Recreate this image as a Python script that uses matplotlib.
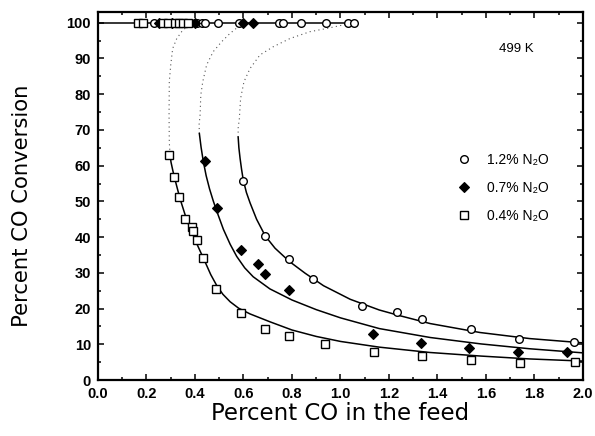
import matplotlib
matplotlib.use('Agg')
import matplotlib.pyplot as plt
from matplotlib.ticker import MultipleLocator, FormatStrFormatter
from matplotlib.lines import Line2D

plt.rcParams['font.family'] = ['Liberation Sans', 'DejaVu Sans']

# measured points, lower branch
co_12 = [0.600, 0.690, 0.789, 0.888, 1.088, 1.233, 1.338, 1.537, 1.738, 1.965]
conv_12 = [55.8, 40.2, 33.8, 28.3, 20.8, 18.9, 17.0, 14.2, 11.4, 10.6]
co_07 = [0.440, 0.490, 0.589, 0.660, 0.690, 0.789, 1.133, 1.334, 1.532, 1.734, 1.936]
conv_07 = [61.3, 48.2, 36.4, 32.4, 29.7, 25.1, 12.8, 10.4, 9.1, 7.9, 7.8]
co_04 = [0.294, 0.315, 0.334, 0.358, 0.389, 0.392, 0.407, 0.431, 0.487, 0.590,
         0.690, 0.787, 0.938, 1.139, 1.338, 1.538, 1.739, 1.968]
conv_04 = [63.0, 56.8, 51.3, 45.2, 42.8, 41.6, 39.3, 34.2, 25.5, 18.7,
           14.3, 12.4, 10.1, 7.9, 6.6, 5.6, 4.9, 5.0]

# measured points on the upper (100 %) branch
top_12 = [0.232, 0.385, 0.41, 0.427, 0.442, 0.494, 0.581, 0.748, 0.762, 0.836, 0.939, 1.033, 1.056]
top_07 = [0.25, 0.305, 0.40, 0.598, 0.641]
top_04 = [0.166, 0.186, 0.27, 0.29, 0.318, 0.336, 0.352, 0.37]
top_line_x = [0.0, 1.06]

# model curves (solid = stable lower branch, dotted = unstable branch)
fit_12_x = [0.578, 0.581, 0.586, 0.592, 0.599, 0.612, 0.627, 0.654, 0.69, 0.73, 0.789,
            0.854, 0.93, 1.04, 1.16, 1.245, 1.37, 1.575, 1.78, 2.0]
fit_12_y = [68.0, 65.0, 62.0, 59.0, 56.0, 52.5, 49.6, 45.0, 40.3, 36.9, 33.2,
            29.9, 26.4, 22.6, 19.6, 18.0, 15.8, 13.3, 11.6, 10.4]
dot_12_x = [0.578, 0.578, 0.583, 0.588, 0.602, 0.627, 0.668, 0.723, 0.792, 0.874, 0.943, 0.998, 1.05]
dot_12_y = [68.0, 70.5, 73.2, 78.8, 83.5, 87.2, 91.0, 93.3, 95.6, 97.5, 98.4, 99.2, 100]

fit_07_x = [0.418, 0.425, 0.434, 0.446, 0.46, 0.475, 0.489, 0.517, 0.545, 0.572, 0.605,
            0.64, 0.709, 0.80, 0.90, 1.0, 1.16, 1.37, 1.58, 1.78, 2.0]
fit_07_y = [69.0, 65.2, 61.3, 57.2, 53.5, 50.2, 47.4, 42.2, 38.0, 34.6, 31.4,
            28.9, 25.5, 22.4, 19.7, 17.4, 14.4, 11.9, 10.1, 8.75, 7.6]
dot_07_x = [0.418, 0.417, 0.421, 0.424, 0.432, 0.448, 0.475, 0.510, 0.544, 0.579, 0.606, 0.64]
dot_07_y = [69.0, 71.5, 74.2, 79.8, 83.5, 88.2, 91.9, 94.7, 97.0, 98.9, 99.6, 100]

fit_04_x = [0.297, 0.301, 0.309, 0.318, 0.338, 0.366, 0.407, 0.442, 0.465, 0.49, 0.515,
            0.545, 0.58, 0.627, 0.709, 0.80, 0.90, 1.0, 1.16, 1.37, 1.58, 1.78, 2.0]
fit_04_y = [63.2, 61.0, 58.5, 56.0, 50.8, 44.8, 38.2, 33.0, 29.5, 26.4, 24.0,
            21.9, 20.1, 18.5, 16.3, 14.0, 12.2, 10.8, 9.2, 7.7, 6.7, 5.9, 5.3]
dot_04_x = [0.297, 0.294, 0.293, 0.294, 0.300, 0.308, 0.325, 0.345, 0.366, 0.392, 0.42]
dot_04_y = [63.2, 66.7, 74.2, 83.5, 88.2, 92.8, 95.6, 97.5, 98.9, 99.6, 100]

labels = ['1.2% N\u2082O', '0.7% N\u2082O', '0.4% N\u2082O']

fig = plt.figure(figsize=(5.95, 4.36), dpi=100)
ax = fig.add_axes([0.1647, 0.1284, 0.8151, 0.8448])

line_kw = dict(color='black', linewidth=1.1, zorder=2)
dot_kw = dict(color='#555555', linewidth=0.8, linestyle=(0, (1, 3)), zorder=1)

ax.plot(top_line_x, [100] * len(top_line_x), **line_kw)
for fx, fy, dx, dy in [(fit_12_x, fit_12_y, dot_12_x, dot_12_y),
                       (fit_07_x, fit_07_y, dot_07_x, dot_07_y),
                       (fit_04_x, fit_04_y, dot_04_x, dot_04_y)]:
    ax.plot(fx, fy, **line_kw)
    ax.plot(dx, dy, **dot_kw)

circ = dict(marker='o', ms=5.5, mfc='white', mec='black', mew=1.0, ls='none', zorder=3)
diam = dict(marker='D', ms=5.5, mfc='black', mec='black', mew=0.8, ls='none', zorder=3)
sqr = dict(marker='s', ms=5.5, mfc='white', mec='black', mew=1.0, ls='none', zorder=3)

ax.plot(co_12, conv_12, **circ)
ax.plot(top_12, [100] * len(top_12), **circ)
ax.plot(co_07, conv_07, **diam)
ax.plot(top_07, [100] * len(top_07), **diam)
ax.plot(co_04, conv_04, **sqr)
ax.plot(top_04, [100] * len(top_04), **sqr)

handles = [Line2D([], [], **circ), Line2D([], [], **diam), Line2D([], [], **sqr)]
ax.legend(handles, labels, loc='upper left', bbox_to_anchor=(0.717, 0.65),
          frameon=False, fontsize=10, handlelength=0.8, handletextpad=1.25,
          labelspacing=1.0, borderpad=0.4)

ax.text(1.724, 92.6, '499 K', fontsize=9.5, ha='center', va='center')

ax.set_xlim(0, 2.0)
ax.set_ylim(0, 103.1)
ax.xaxis.set_major_locator(MultipleLocator(0.2))
ax.xaxis.set_minor_locator(MultipleLocator(0.1))
ax.xaxis.set_major_formatter(FormatStrFormatter('%.1f'))
ax.yaxis.set_major_locator(MultipleLocator(10))
ax.yaxis.set_minor_locator(MultipleLocator(5))
ax.tick_params(which='both', direction='in', top=True, right=True, width=1.1)
ax.tick_params(which='major', length=4.5, labelsize=10.5, pad=5)
ax.tick_params(which='minor', length=2.5)
for lab in ax.get_xticklabels() + ax.get_yticklabels():
    lab.set_fontweight('bold')
for sp in ax.spines.values():
    sp.set_linewidth(1.6)

ax.set_xlabel('Percent CO in the feed', fontsize=16.5, family='DejaVu Sans', labelpad=1)
ax.set_ylabel('Percent CO Conversion', fontsize=15.2, family='DejaVu Sans')
ax.yaxis.set_label_coords(-0.136, 0.472)

fig.savefig('out.png', dpi=100)
